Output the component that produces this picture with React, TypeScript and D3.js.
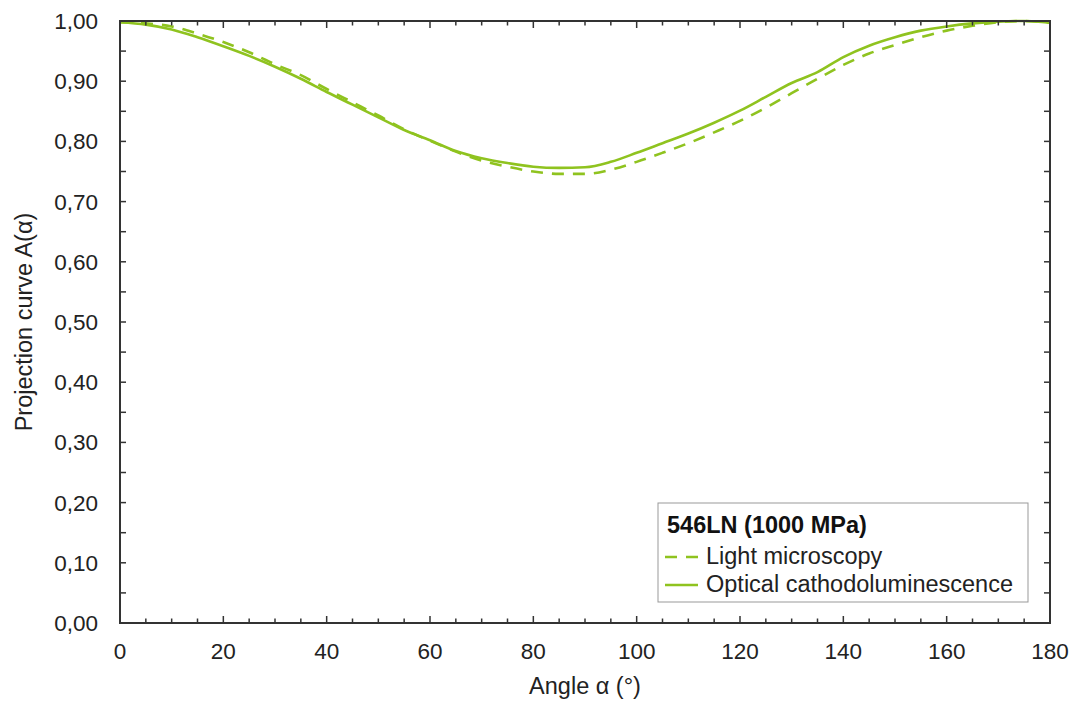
import React from "react";
import * as d3 from "d3";

const angles = [0,5,10,15,20,25,30,35,40,45,50,55,60,65,70,75,80,85,90,95,100,105,110,115,120,125,130,135,140,145,150,155,160,165,170,175,180];
const lightMicroscopy = [0.998,0.996,0.991,0.979,0.965,0.948,0.928,0.910,0.887,0.865,0.843,0.820,0.801,0.783,0.768,0.758,0.750,0.746,0.746,0.753,0.766,0.781,0.797,0.815,0.834,0.856,0.880,0.904,0.927,0.946,0.960,0.973,0.984,0.992,0.998,1.000,0.997];
const cathodoluminescence = [0.998,0.994,0.986,0.973,0.958,0.942,0.924,0.904,0.882,0.861,0.840,0.819,0.802,0.784,0.772,0.764,0.758,0.756,0.757,0.766,0.781,0.797,0.813,0.831,0.851,0.874,0.897,0.915,0.940,0.959,0.973,0.984,0.991,0.996,0.999,1.000,0.997];
const xTicks = [0,20,40,60,80,100,120,140,160,180];
const yTicks = [0,0.1,0.2,0.3,0.4,0.5,0.6,0.7,0.8,0.9,1.0];
const legendTitle = "546LN (1000 MPa)";
const seriesNames = ["Light microscopy", "Optical cathodoluminescence"];

const W = 1078, H = 706;
const L = 120, R = 1050, T = 21, B = 623;
const GREEN = "#8fc31f";
const AXIS = "#333";
const FONT = "'Liberation Sans', Arial, sans-serif";
const DASH = "12,9";

export default function App() {
  const x = d3.scaleLinear().domain([0, 180]).range([L, R]);
  const y = d3.scaleLinear().domain([0, 1]).range([B, T]);
  const line = d3.line<number>().x((_, i) => x(angles[i])).y(d => y(d)).curve(d3.curveMonotoneX);
  const xMinor = d3.range(0, 181, 5);
  const yMinor = d3.range(0, 1.0001, 0.05);
  const fmt = (v: number) => v.toFixed(2).replace(".", ",");
  return (
    <svg width={W} height={H} style={{ position: "absolute", left: 0, top: 0, background: "#fff" }} fontFamily={FONT}>
      <defs>
        <clipPath id="plot"><rect x={L} y={T - 3} width={R - L} height={B - T + 3} /></clipPath>
      </defs>
      <g clipPath="url(#plot)">
        <path d={line(lightMicroscopy) || ""} fill="none" stroke={GREEN} strokeWidth={2.6} strokeDasharray={DASH} />
        <path d={line(cathodoluminescence) || ""} fill="none" stroke={GREEN} strokeWidth={2.6} />
      </g>
      {xMinor.map(v => {
        const major = v % 20 === 0;
        const len = major ? 7 : 4.5;
        return (
          <g key={"xt" + v}>
            <line x1={x(v)} x2={x(v)} y1={B} y2={B - len} stroke={AXIS} strokeWidth={1.5} />
            <line x1={x(v)} x2={x(v)} y1={T} y2={T + len} stroke={AXIS} strokeWidth={1.5} />
          </g>
        );
      })}
      {yMinor.map((v, i) => {
        const len = 6;
        return (
          <g key={"yt" + i}>
            <line x1={L} x2={L + len} y1={y(v)} y2={y(v)} stroke={AXIS} strokeWidth={1.5} />
            <line x1={R} x2={R - len} y1={y(v)} y2={y(v)} stroke={AXIS} strokeWidth={1.5} />
          </g>
        );
      })}
      <rect x={L} y={T} width={R - L} height={B - T} fill="none" stroke={AXIS} strokeWidth={2} />
      {xTicks.map(v => (
        <text key={"xl" + v} x={x(v)} y={659} textAnchor="middle" fontSize={22.5} fill="#222">{v}</text>
      ))}
      {yTicks.map((v, i) => (
        <text key={"yl" + i} x={98} y={y(v) + 8} textAnchor="end" fontSize={22.5} fill="#222">{fmt(v)}</text>
      ))}
      <text x={(L + R) / 2} y={694} textAnchor="middle" fontSize={23.5} fill="#222">Angle α (°)</text>
      <text transform={`translate(32,${(T + B) / 2}) rotate(-90)`} textAnchor="middle" fontSize={23.5} fill="#222">Projection curve A(α)</text>
      <rect x={658} y={503} width={370} height={99} fill="#fff" stroke="#999" strokeWidth={1} />
      <text x={667} y={533} fontSize={23.5} fontWeight="bold" fill="#111">{legendTitle}</text>
      <line x1={665} x2={698} y1={557} y2={557} stroke={GREEN} strokeWidth={2.6} strokeDasharray={DASH} />
      <text x={706} y={564} fontSize={23.5} fill="#222">{seriesNames[0]}</text>
      <line x1={665} x2={698} y1={585} y2={585} stroke={GREEN} strokeWidth={2.6} />
      <text x={706} y={592} fontSize={23.5} fill="#222">{seriesNames[1]}</text>
    </svg>
  );
}
